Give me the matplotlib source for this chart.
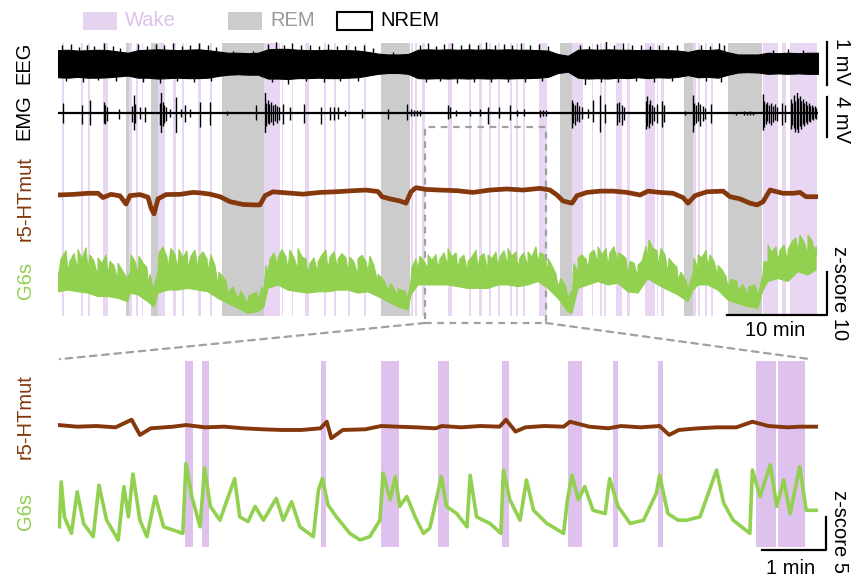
import numpy as np
import matplotlib
matplotlib.use('Agg')
from matplotlib import pyplot as plt
from matplotlib.patches import Rectangle, ConnectionPatch
from matplotlib.transforms import blended_transform_factory

plt.rcParams['font.family'] = ['Liberation Sans', 'DejaVu Sans']

W, H = 856, 585

# ---------------- sleep scoring (minutes) ----------------
wake_top = [(0.4, 0.6), (2.3, 2.5), (3.0, 3.2), (4.5, 5.0), (7.1, 7.4), (7.8, 8.0),
            (8.4, 8.5), (10.0, 10.7), (11.5, 11.8), (12.4, 12.6), (14.0, 14.3),
            (15.2, 15.4), (20.6, 22.2), (22.4, 22.5), (23.4, 23.5), (24.7, 25.1),
            (26.6, 26.8), (27.6, 27.8), (29.0, 29.2), (30.6, 30.8), (35.3, 35.5),
            (35.7, 35.9), (36.4, 36.7), (39.0, 39.4), (41.1, 41.3), (42.1, 42.4),
            (43.1, 43.3), (44.0, 44.2), (45.2, 45.4), (45.8, 46.0), (46.5, 46.7),
            (48.1, 48.9), (51.4, 52.5), (53.4, 53.5), (54.2, 54.4), (54.6, 54.8),
            (55.8, 56.4), (56.9, 57.2), (58.7, 59.7), (59.9, 60.0), (60.3, 60.6),
            (63.5, 63.8), (64.0, 64.2), (64.7, 64.9), (65.3, 65.5), (70.5, 72.0),
            (72.4, 72.8), (73.2, 75.9)]
rem_top = [(6.8, 7.1), (9.3, 10.0), (16.4, 20.6), (32.3, 35.2), (50.2, 51.4),
           (62.6, 63.5), (67.0, 70.4)]
wake_bot = [(1.98, 2.11), (2.25, 2.36), (4.11, 4.19), (5.05, 5.33), (5.94, 6.11),
            (6.94, 7.05), (7.97, 8.19), (8.67, 8.75), (9.375, 9.45), (10.91, 11.22),
            (11.25, 11.67)]
zoom_win = (36.7, 48.8)

# ---------------- EEG (mV): band edges per minute + edge spikes ----------------
eeg_t = np.arange(77)
eeg_hi = [0.31, 0.32, 0.30, 0.31, 0.32, 0.31, 0.28, 0.25, 0.31, 0.32, 0.33, 0.32, 0.31,
          0.32, 0.33, 0.31, 0.28, 0.25, 0.25, 0.24, 0.25, 0.33, 0.34, 0.34, 0.32, 0.31,
          0.31, 0.32, 0.31, 0.31, 0.30, 0.27, 0.23, 0.21, 0.21, 0.22, 0.32, 0.33, 0.32,
          0.33, 0.32, 0.33, 0.32, 0.33, 0.32, 0.33, 0.32, 0.32, 0.31, 0.30, 0.22, 0.18,
          0.32, 0.33, 0.32, 0.33, 0.32, 0.32, 0.31, 0.32, 0.31, 0.31, 0.30, 0.27, 0.32,
          0.31, 0.33, 0.26, 0.21, 0.21, 0.21, 0.25, 0.24, 0.25, 0.24, 0.25, 0.25]
eeg_lo = [-0.32, -0.33, -0.31, -0.33, -0.33, -0.32, -0.30, -0.28, -0.33, -0.33, -0.35,
          -0.34, -0.33, -0.34, -0.34, -0.33, -0.29, -0.26, -0.25, -0.26, -0.26, -0.35,
          -0.35, -0.36, -0.34, -0.34, -0.33, -0.34, -0.34, -0.33, -0.32, -0.28, -0.24,
          -0.22, -0.22, -0.24, -0.34, -0.35, -0.34, -0.35, -0.34, -0.35, -0.34, -0.35,
          -0.34, -0.35, -0.34, -0.34, -0.33, -0.31, -0.22, -0.19, -0.33, -0.35, -0.34,
          -0.35, -0.33, -0.34, -0.32, -0.34, -0.32, -0.33, -0.31, -0.27, -0.32, -0.31,
          -0.33, -0.26, -0.21, -0.20, -0.21, -0.24, -0.23, -0.24, -0.23, -0.24, -0.24]
eeg_up_t = [0.4, 1.3, 2.1, 2.9, 3.6, 4.6, 5.5, 6.2, 8.0, 8.9, 9.8, 10.6, 11.5, 12.4, 13.2,
            14.1, 15.0, 15.8, 17.5, 19.5, 21.0, 21.8, 22.6, 23.4, 24.3, 25.2, 26.1, 27.0,
            27.9, 28.8, 29.7, 30.6, 31.5, 33.5, 36.2, 37.0, 37.8, 38.6, 39.4, 40.3, 41.1,
            42.0, 42.8, 43.7, 44.6, 45.4, 46.3, 47.2, 48.1, 49.0, 52.2, 53.1, 53.9, 54.8,
            55.6, 56.5, 57.4, 58.3, 59.2, 60.1, 61.0, 61.9, 64.3, 65.2, 66.1, 66.6, 71.5,
            73.0, 74.5]
eeg_up = [0.42, 0.45, 0.38, 0.44, 0.40, 0.47, 0.40, 0.36, 0.45, 0.40, 0.46, 0.42, 0.48,
          0.40, 0.44, 0.47, 0.42, 0.38, 0.30, 0.30, 0.45, 0.50, 0.44, 0.48, 0.42, 0.44,
          0.40, 0.46, 0.40, 0.43, 0.40, 0.42, 0.35, 0.27, 0.44, 0.47, 0.40, 0.45, 0.48,
          0.42, 0.46, 0.44, 0.49, 0.42, 0.46, 0.44, 0.47, 0.42, 0.45, 0.40, 0.44, 0.40,
          0.46, 0.52, 0.44, 0.47, 0.42, 0.44, 0.40, 0.43, 0.40, 0.42, 0.44, 0.40, 0.48,
          0.44, 0.32, 0.33, 0.32]
eeg_dn_t = [0.8, 2.5, 4.0, 5.8, 8.5, 10.2, 11.9, 13.6, 15.3, 21.4, 23.0, 24.8, 26.6, 28.2,
            30.0, 36.8, 38.2, 39.9, 41.6, 43.3, 45.0, 46.7, 48.4, 52.7, 54.3, 56.0, 57.8,
            59.6, 61.4, 64.8, 66.3]
eeg_dn = [-0.40, -0.42, -0.38, -0.40, -0.42, -0.45, -0.40, -0.44, -0.40, -0.44, -0.48,
          -0.40, -0.44, -0.40, -0.40, -0.44, -0.40, -0.45, -0.42, -0.44, -0.42, -0.44,
          -0.40, -0.50, -0.42, -0.44, -0.40, -0.42, -0.40, -0.40, -0.42]

# ---------------- EMG spikes (mV) ----------------
emg_t = [0.53, 2.37, 3.17, 4.55, 4.7, 4.85, 6.05, 7.35, 7.55, 7.7, 8.2, 8.7,
         10.15, 10.3, 10.45, 10.6, 10.8, 11.2, 11.8, 12.3, 12.7, 13.2, 14.2, 15.2, 16.9,
         19.8, 20.65, 20.8, 20.95, 21.1, 21.3, 21.5, 21.7, 21.9, 22.1, 22.5, 23.2, 24.6,
         26.3, 27.2, 27.6, 28.0, 28.7, 30.4, 33.0, 34.9, 35.3, 35.6, 35.9, 36.2,
         39.0, 39.2, 39.8, 41.2, 42.2, 43.0, 44.1, 45.2, 45.9, 46.6, 48.2, 48.5, 48.8,
         51.35, 51.5, 51.7, 51.9, 52.1, 52.4, 53.0, 53.5, 54.2, 54.7, 55.9, 56.1, 56.4, 56.6,
         58.75, 58.9, 59.05, 59.2, 59.4, 59.55, 59.9, 60.35, 60.55, 62.7,
         63.45, 63.6, 63.8, 64.0, 64.2, 64.45, 64.65, 65.3, 67.8, 68.6, 68.9, 69.2, 69.5,
         70.45, 70.6, 70.75, 70.9, 71.1, 71.3, 71.5, 71.7, 71.9, 72.35, 72.7,
         73.25, 73.4, 73.55, 73.7, 73.85, 74.0, 74.15, 74.3, 74.45, 74.6, 74.75, 74.9,
         75.05, 75.2, 75.35, 75.5, 75.65, 75.8]
emg_up = [1.0, 0.8, 1.3, 1.1, 0.8, 0.6, 0.4, 0.7, 1.8, 0.9, 0.6, 0.6,
          1.0, 2.1, 1.1, 0.8, 0.6, 0.4, 1.6, 0.4, 0.8, 0.4, 1.1, 1.1, 0.25,
          0.8, 2.1, 1.0, 1.3, 0.9, 1.1, 0.8, 0.9, 0.7, 0.6, 0.9, 0.6, 0.9,
          0.6, 0.6, 0.6, 0.6, 0.3, 0.4, 0.4, 0.9, 0.4, 0.3, 0.35, 0.3,
          0.8, 0.6, 0.3, 0.3, 0.4, 0.6, 0.6, 0.8, 0.3, 0.4, 0.3, 0.35, 0.3,
          1.3, 1.0, 0.8, 1.1, 0.7, 0.6, 0.4, 1.3, 1.8, 0.9, 1.0, 1.1, 0.8, 0.6,
          1.2, 1.7, 0.9, 1.3, 0.8, 0.6, 0.9, 1.2, 0.8, 0.2,
          1.8, 1.0, 0.8, 1.1, 0.9, 0.7, 0.5, 0.9, 0.15, 0.2, 0.15, 0.2, 0.15,
          1.9, 1.2, 0.9, 1.1, 0.8, 1.0, 0.7, 0.9, 0.6, 1.0, 0.8,
          1.4, 1.0, 1.8, 1.2, 2.1, 1.5, 1.7, 1.2, 1.4, 1.0, 1.2, 0.8,
          1.0, 0.7, 0.8, 0.6, 0.7, 0.5]
emg_dn = [1.0, 1.1, 1.2, 1.0, 1.1, 0.8, 0.6, 0.9, 1.7, 1.0, 0.6, 0.9,
          1.2, 2.2, 1.3, 1.0, 0.8, 0.4, 2.2, 0.4, 0.9, 0.4, 1.4, 1.2, 0.2,
          0.7, 2.1, 1.3, 1.0, 1.1, 0.9, 1.2, 0.8, 1.0, 0.7, 1.1, 0.7, 1.0,
          1.1, 0.7, 0.7, 0.6, 0.3, 0.5, 0.6, 0.7, 0.3, 0.3, 0.3, 0.25,
          0.6, 0.5, 0.3, 0.3, 0.3, 1.1, 0.5, 0.7, 0.3, 0.3, 0.35, 0.3, 0.3,
          1.5, 1.0, 1.2, 0.8, 0.9, 0.6, 0.5, 0.9, 1.9, 1.0, 1.2, 0.9, 1.2, 0.7,
          1.6, 1.3, 1.5, 1.0, 1.2, 0.8, 1.0, 1.4, 0.9, 0.2,
          1.9, 1.2, 1.0, 0.8, 1.3, 0.8, 0.6, 1.0, 0.15, 0.15, 0.2, 0.2, 0.2,
          1.7, 1.4, 1.1, 0.8, 1.0, 1.2, 0.9, 0.7, 0.8, 1.2, 0.9,
          1.6, 1.2, 1.5, 1.9, 1.6, 2.0, 1.3, 1.6, 1.1, 1.3, 0.9, 1.1,
          0.8, 0.9, 0.6, 0.7, 0.5, 0.6]

# ---------------- r5-HTmut, whole recording (z-score) ----------------
ht_t = [0, 1.6, 3.0, 4.0, 4.5, 5.3, 6.2, 6.8, 7.2, 8.2, 9.0, 9.3, 9.6, 10.0, 10.8, 12.2,
        13.5, 14.2, 15.2, 16.2, 17.2, 18.5, 19.5, 20.2, 20.7, 21.5, 22.8, 24.5, 26.2,
        27.8, 29.5, 30.8, 32.0, 32.4, 33.2, 34.2, 34.8, 35.3, 35.8, 36.8, 38.2, 39.9,
        41.5, 43.2, 44.9, 46.5, 48.2, 49.2, 49.9, 50.5, 51.4, 51.9, 52.9, 54.2, 55.5,
        56.9, 58.2, 59.0, 60.2, 61.5, 62.5, 63.0, 63.7, 64.9, 66.5, 67.2, 68.2, 69.2,
        69.9, 70.5, 71.2, 72.5, 73.5, 74.2, 74.8, 75.8]
ht_z = [0, 0.15, 0.4, 0.4, -0.6, 0.15, -0.2, -2.1, -0.15, 0.1, -0.5, -3.0, -4.4, -0.9,
        0.1, 0.15, 0.6, 0.5, 0.2, -0.4, -1.55, -2.2, -2.3, -2.3, -0.15, 0.75, 0.5, 0.2,
        0.6, 0.75, 1.0, 1.15, 0.8, -0.4, -0.9, -1.4, -1.9, 0.75, 1.7, 1.3, 1.15, 1.0, 0.6,
        1.15, 1.4, 1.15, 1.55, 1.15, 0, -1.4, -1.9, -0.15, 0.6, 0.9, 0.9, 0.6, 0, 0.9,
        0.6, 0.4, -0.6, -1.9, -0.15, 0.75, 0.9, -0.4, -0.9, -1.9, -2.3, -1.6, 1.15, 0.4,
        0.4, 0.6, -0.4, -0.4]

# ---------------- G6s, whole recording (z-score): dense band + spike tips ----------------
g6_t = [0, 1, 2, 3, 4, 5, 6, 7, 7.2, 8, 9, 9.6, 10, 11, 12, 13, 14, 15, 16, 17, 18, 19,
        20, 20.6, 21, 22, 23, 24, 25, 26, 27, 28, 29, 30, 31, 32, 33, 34, 35, 35.3, 36, 37,
        38, 39, 40, 41, 42, 43, 44, 45, 46, 47, 48, 49, 50, 51, 51.4, 52, 53, 54, 55, 56,
        57, 58, 59, 60, 61, 62, 63, 63.5, 64, 65, 66, 67, 68, 69, 70, 70.5, 71, 72, 73,
        74, 75, 75.8]
g6_core = [5.0, 6.6, 6.9, 7.1, 5.4, 5.8, 4.6, 4.7, 6.2, 6.0, 3.7, 1.7, 6.5, 7.4, 7.3, 7.3,
           7.1, 6.4, 3.4, 1.6, 0.4, -0.7, -0.2, 2.3, 6.1, 7.6, 7.1, 7.0, 5.8, 6.0, 6.9,
           6.9, 6.4, 5.8, 6.4, 3.7, 2.3, 0.9, 0.4, 4.6, 7.1, 7.3, 7.3, 7.9, 7.2, 6.1, 7.3,
           6.8, 7.6, 7.9, 7.3, 7.6, 8.6, 6.5, 3.1, 0.3, -0.3, 6.5, 7.3, 8.6, 7.9, 8.3, 6.0,
           5.1, 9.7, 7.9, 6.2, 4.6, 2.3, 6.2, 7.3, 7.7, 5.5, 2.9, 2.1, 1.1, 1.1, 5.9, 8.7,
           8.9, 8.7, 11.0, 10.6, 10.0]
g6_lo = [1.9, 2.3, 1.9, 1.6, 0.8, 0.8, 0.4, -0.4, 1.6, 1.2, -0.4, -1.6, 1.6, 2.3, 2.3,
         2.7, 2.3, 1.9, 0.4, -0.8, -1.9, -3.1, -2.7, -1.6, 2.7, 3.5, 2.3, 1.9, 1.6, 1.9,
         1.9, 2.3, 2.3, 1.6, 1.9, 0.8, -0.4, -1.6, -2.3, 1.2, 3.5, 3.5, 3.5, 3.5, 3.1, 2.7,
         2.7, 2.7, 3.5, 3.5, 3.1, 3.5, 4.3, 2.7, 0.4, -2.7, -3.1, 2.7, 3.5, 4.3, 3.5, 3.9,
         1.9, 1.6, 5.0, 3.5, 2.3, 1.2, -0.4, 2.3, 3.5, 3.5, 2.3, 0.0, -0.8, -1.6, -1.9,
         2.3, 4.3, 5.0, 4.3, 6.6, 5.8, 7.0]
g6_spk_t = [0.3, 0.8, 1.2, 1.6, 2.0, 2.4, 2.8, 3.2, 3.6, 4.0, 4.4, 4.8, 5.2, 5.6, 6.0, 6.4,
            7.0, 7.3, 7.7, 8.1, 8.5, 8.9, 9.2, 9.6, 10.1, 10.5, 10.9, 11.3, 11.7, 12.1,
            12.5, 12.9, 13.3, 13.7, 14.1, 14.5, 14.9, 15.3, 15.7, 16.1, 16.8, 17.5, 18.3,
            19.1, 19.9, 20.4, 20.8, 21.2, 21.6, 22.0, 22.4, 22.8, 23.2, 23.6, 24.0, 24.4,
            24.8, 25.2, 25.6, 26.0, 26.4, 26.8, 27.2, 27.6, 28.0, 28.4, 28.8, 29.2, 29.6,
            30.0, 30.4, 30.8, 31.2, 31.6, 32.0, 32.6, 33.3, 34.0, 34.7, 35.4, 35.8, 36.2,
            36.6, 37.0, 37.4, 37.8, 38.2, 38.6, 39.0, 39.4, 39.8, 40.2, 40.6, 41.0, 41.4,
            41.8, 42.2, 42.6, 43.0, 43.4, 43.8, 44.2, 44.6, 45.0, 45.4, 45.8, 46.2, 46.6,
            47.0, 47.4, 47.8, 48.2, 48.6, 49.0, 49.4, 49.8, 50.3, 50.8, 51.3, 51.6, 52.0,
            52.4, 52.8, 53.2, 53.6, 54.0, 54.4, 54.8, 55.2, 55.6, 56.0, 56.4, 56.8, 57.2,
            57.6, 58.0, 58.4, 58.8, 59.1, 59.5, 59.9, 60.3, 60.7, 61.1, 61.5, 61.9, 62.3,
            62.8, 63.2, 63.6, 64.0, 64.4, 64.8, 65.2, 65.6, 66.0, 66.4, 66.8, 67.3, 67.9,
            68.5, 69.1, 69.7, 70.2, 70.6, 71.0, 71.4, 71.8, 72.2, 72.6, 73.0, 73.4, 73.8,
            74.2, 74.6, 75.0, 75.4, 75.8]
g6_spk = [9.5, 11.5, 9.0, 10.8, 11.8, 9.5, 12.2, 10.5, 9.0, 9.8, 8.5, 10.5, 9.0, 8.0, 8.6,
          7.0, 5.5, 10.5, 9.0, 10.2, 8.6, 7.5, 6.0, 3.0, 11.0, 12.3, 10.0, 12.0, 10.5, 11.8,
          9.8, 11.5, 10.2, 11.6, 10.0, 11.2, 9.5, 10.5, 8.0, 6.5, 4.5, 3.0, 2.0, 1.0, 1.8,
          3.0, 8.0, 9.5, 11.0, 9.8, 11.8, 10.0, 11.6, 9.8, 12.0, 10.0, 9.6, 8.5, 9.8, 8.8,
          10.5, 11.6, 10.0, 11.2, 9.5, 10.8, 9.8, 10.0, 8.8, 9.6, 10.4, 9.0, 10.2, 8.0, 6.0,
          4.5, 3.8, 2.6, 2.0, 7.5, 9.6, 10.2, 9.0, 10.5, 9.2, 10.6, 9.5, 11.0, 12.0, 10.0,
          11.0, 9.6, 10.4, 8.9, 10.0, 11.6, 10.0, 10.8, 10.5, 9.6, 11.2, 10.0, 11.5, 12.0,
          10.2, 11.2, 9.8, 11.0, 11.2, 10.0, 12.4, 11.0, 10.5, 9.7, 8.0, 6.0, 5.0, 3.0, 2.0,
          8.5, 9.7, 10.5, 9.5, 10.8, 11.6, 12.4, 10.5, 12.0, 11.0, 12.4, 11.0, 10.5, 9.7,
          9.0, 8.6, 8.1, 9.0, 12.5, 14.0, 12.0, 11.5, 12.0, 10.5, 9.7, 8.5, 7.6, 6.5, 4.5,
          4.0, 9.7, 10.5, 9.8, 11.6, 10.5, 9.0, 8.1, 7.0, 5.5, 4.8, 4.3, 3.6, 3.1, 3.5, 3.0,
          9.0, 12.8, 11.0, 12.4, 11.5, 12.8, 11.6, 13.5, 14.5, 15.1, 13.5, 15.1, 13.8, 12.4]

# ---------------- zoomed window (minutes from window start) ----------------
htz_t = [0, 0.3, 0.6, 0.9, 1.15, 1.28, 1.45, 1.8, 2.0, 2.3, 2.6, 2.9, 3.2, 3.5, 3.8,
         4.1, 4.2, 4.27, 4.45, 4.8, 5.05, 5.3, 5.6, 5.9, 6.0, 6.3, 6.6, 6.9, 7.0, 7.15,
         7.3, 7.6, 7.9, 8.0, 8.3, 8.6, 8.8, 9.1, 9.4, 9.55, 9.7, 10.0, 10.3, 10.6, 10.85,
         11.1, 11.4, 11.6, 11.85]
htz_z = [0.3, 0.05, 0.15, -0.05, 1.1, -1.2, -0.2, 0.05, 0.3, -0.05, 0.05, -0.2, -0.35,
         -0.45, -0.45, -0.2, 0.8, -1.7, -0.45, -0.35, 0.15, 0.05, -0.05, -0.2, 0.15, -0.05,
         0.15, 0.05, 1.1, -0.7, -0.05, 0.15, 0.05, 0.8, 0.05, -0.2, 0.15, -0.05, 0.15,
         -1.2, -0.45, -0.2, -0.05, -0.05, 0.8, 0.15, -0.05, 0.05, 0.05]
g6z_t = [0.02, 0.05, 0.1, 0.21, 0.3, 0.4, 0.55, 0.64, 0.76, 0.94, 1.03, 1.1, 1.17, 1.28,
         1.39, 1.52, 1.65, 1.8, 1.95, 2.0, 2.09, 2.22, 2.29, 2.38, 2.53, 2.76, 2.84, 2.97,
         3.08, 3.21, 3.41, 3.52, 3.65, 3.78, 3.99, 4.07, 4.13, 4.22, 4.35, 4.56, 4.72,
         4.87, 5.03, 5.08, 5.19, 5.27, 5.34, 5.45, 5.58, 5.71, 5.81, 5.99, 6.07, 6.23,
         6.39, 6.44, 6.54, 6.75, 6.92, 6.96, 7.06, 7.22, 7.32, 7.43, 7.64, 7.9, 7.96,
         8.03, 8.13, 8.23, 8.36, 8.55, 8.62, 8.75, 8.94, 9.15, 9.35, 9.4, 9.53, 9.69,
         9.82, 10.03, 10.29, 10.4, 10.55, 10.81, 10.85, 10.97, 11.13, 11.23, 11.34,
         11.44, 11.59, 11.69, 11.85]
g6z_z = [2.0, 8.8, 3.5, 1.0, 7.3, 2.5, 0.5, 8.3, 3.0, 0.0, 8.1, 3.5, 10.0, 3.0, 0.5, 6.6,
         2.0, 1.5, 1.0, 11.6, 6.6, 2.0, 10.9, 5.1, 3.0, 9.3, 3.5, 2.8, 5.1, 3.0, 6.3, 3.0,
         5.8, 2.0, 0.5, 7.6, 9.3, 5.3, 3.5, 1.0, 0.0, 0.5, 3.0, 10.1, 6.1, 9.6, 5.1, 6.6,
         3.5, 1.0, 1.8, 9.6, 5.1, 4.0, 2.0, 9.8, 3.5, 2.5, 1.0, 10.6, 6.1, 3.0, 9.1, 4.5,
         2.5, 1.0, 6.1, 9.8, 6.1, 8.1, 4.5, 4.0, 9.3, 5.1, 2.5, 3.0, 7.1, 9.8, 4.0, 3.0,
         3.0, 3.5, 10.6, 5.6, 3.0, 1.0, 10.6, 6.6, 11.4, 5.1, 9.1, 4.0, 11.1, 4.5, 4.5]

WAKE_TOP = '#E8D6F3'
WAKE_BOT = '#DFC1EE'
REM_C = '#CCCCCC'
BROWN = '#84380C'
GREEN = '#92D050'
GREY_DASH = '#A0A0A0'
FS = 14.5

fig = plt.figure(figsize=(W / 100, H / 100), dpi=100)


def px_axes(x0, y0, x1, y1, xlim, ylim):
    ax = fig.add_axes([x0 / W, 1 - y1 / H, (x1 - x0) / W, (y1 - y0) / H])
    ax.set_xlim(*xlim)
    ax.set_ylim(*ylim)
    ax.axis('off')
    ax.patch.set_alpha(0)
    return ax


def ftext(x, y, s, **kw):
    fig.text(x / W, 1 - y / H, s, ha='center', va='center', fontsize=FS, **kw)


TOP_X = (0, 76)
BOT_X = (0, 11.875)

# ---- top panel ----
sh_top = px_axes(58, 43, 818, 316, TOP_X, (0, 1))
for a, b in wake_top:
    sh_top.axvspan(a, b, color=WAKE_TOP, lw=0)
for a, b in rem_top:
    sh_top.axvspan(a, b, color=REM_C, lw=0)

ax_eeg = px_axes(58, 42, 818, 85, TOP_X, (-0.5, 0.5))
ax_eeg.fill_between(eeg_t, eeg_lo, eeg_hi, color='black', lw=0.8)
ax_eeg.vlines(eeg_up_t, 0, eeg_up, color='black', lw=1.0)
ax_eeg.vlines(eeg_dn_t, eeg_dn, 0, color='black', lw=1.0)
ax_eeg.plot([76.9, 76.9], [-0.5, 0.5], color='black', lw=1.6, clip_on=False)

ax_emg = px_axes(58, 93, 818, 133, TOP_X, (-2, 2))
ax_emg.plot([eeg_t[0], emg_t[-1] + 0.1], [0, 0], color='black', lw=1.6)
ax_emg.vlines(emg_t, -np.array(emg_dn), emg_up, color='black', lw=1.0)
ax_emg.plot([76.9, 76.9], [-2.4, 1.6], color='black', lw=1.6, clip_on=False)

ax_ht = px_axes(58, 150, 818, 240, TOP_X, (-45 / 4.3, 45 / 4.3))
ax_ht.plot(ht_t, ht_z, color=BROWN, lw=3.4, solid_joinstyle='round')

ax_g6 = px_axes(58, 230, 818, 320, TOP_X, (-20 / 4.3, 70 / 4.3))
# outline: upper edge runs through the dense-band edge and the spike tips
up_x = np.concatenate([g6_t, g6_spk_t])
up_y = np.concatenate([g6_core, g6_spk])
order = np.argsort(up_x, kind='stable')
poly_x = np.concatenate([up_x[order], np.array(g6_t)[::-1]])
poly_y = np.concatenate([up_y[order], np.array(g6_lo)[::-1]])
ax_g6.fill(poly_x, poly_y, color=GREEN, lw=0.8)
ax_g6.plot([66.9, 76.9, 76.9], [-3.5, -3.5, 6.5], color='black', lw=1.6, clip_on=False)

# zoom window box
trA = blended_transform_factory(sh_top.transData, sh_top.transAxes)
y_box0 = (316 - 323) / 273
y_box1 = (316 - 127) / 273
sh_top.add_patch(Rectangle((zoom_win[0], y_box0), zoom_win[1] - zoom_win[0], y_box1 - y_box0,
                           transform=trA, fill=False, ec=GREY_DASH, lw=1.6,
                           ls=(0, (3, 2.5)), clip_on=False, zorder=5))

# ---- bottom panel ----
sh_bot = px_axes(58, 361, 818, 547, BOT_X, (0, 1))
for a, b in wake_bot:
    sh_bot.axvspan(a, b, color=WAKE_BOT, lw=0)

ax_htz = px_axes(58, 380, 818, 475, BOT_X, (-48 / 6.6, 47 / 6.6))
ax_htz.plot(htz_t, htz_z, color=BROWN, lw=2.8)

ax_g6z = px_axes(58, 440, 818, 560, BOT_X, (-20 / 6.6, 100 / 6.6))
ax_g6z.plot(g6z_t, g6z_z, color=GREEN, lw=2.6)
ax_g6z.plot([11.0, 12.0, 12.0], [-1.5, -1.5, 3.5], color='black', lw=1.6, clip_on=False)

trB = blended_transform_factory(sh_bot.transData, sh_bot.transAxes)
for xa, xb in [(zoom_win[0], 0.03), (zoom_win[1], 11.75)]:
    con = ConnectionPatch(xyA=(xa, y_box0), coordsA=trA, xyB=(xb, 1.01), coordsB=trB,
                          color=GREY_DASH, lw=1.6, ls=(0, (3, 2.5)))
    fig.add_artist(con)

# ---- legend ----
fig.add_artist(Rectangle((83 / W, 1 - 30 / H), 34 / W, 18 / H, transform=fig.transFigure,
                         color='#E6D3F0', lw=0))
fig.text(125 / W, 1 - 21 / H, 'Wake', color='#DCC3EC', fontsize=FS, va='center')
fig.add_artist(Rectangle((228 / W, 1 - 30 / H), 34 / W, 18 / H, transform=fig.transFigure,
                         color=REM_C, lw=0))
fig.text(270 / W, 1 - 21 / H, 'REM', color='#999999', fontsize=FS, va='center')
fig.add_artist(Rectangle((337 / W, 1 - 30 / H), 35 / W, 18 / H, transform=fig.transFigure,
                         fill=False, ec='black', lw=1.5))
fig.text(380 / W, 1 - 21 / H, 'NREM', color='black', fontsize=FS, va='center')

# ---- row labels ----
ftext(24, 63, 'EEG', rotation=90)
ftext(24, 117, 'EMG', rotation=90)
ftext(25, 199, 'r5-HTmut', rotation=90, color=BROWN)
ftext(25, 280, 'G6s', rotation=90, color=GREEN)
ftext(25, 417, 'r5-HTmut', rotation=90, color=BROWN)
ftext(25, 511, 'G6s', rotation=90, color=GREEN)

# ---- scale labels ----
ftext(841, 61, '1 mV', rotation=270)
ftext(841, 120, '4 mV', rotation=270)
ftext(840, 293, 'z-score 10', rotation=270)
ftext(775, 330, '10 min')
ftext(791, 568, '1 min')
ftext(840, 532, 'z-score 5', rotation=270)

fig.savefig('out.png', dpi=100)
